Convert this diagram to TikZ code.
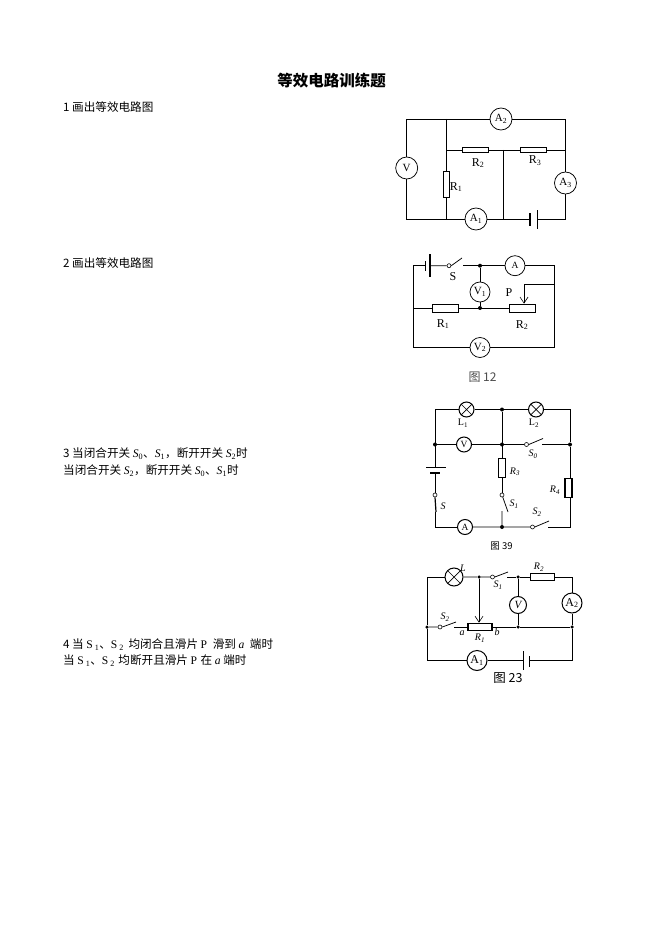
\documentclass[tikz,border=0pt]{standalone}
\usepackage{fontspec}
\setmainfont{Liberation Serif}
\newfontfamily\cjk{Noto Sans CJK SC}
\newfontfamily\lat{Liberation Serif}
\usetikzlibrary{arrows.meta}
\newcommand{\subS}[2]{{\lat\itshape #1}\textsubscript{\lat #2}}
\newcommand{\subU}[2]{{\lat #1\,}\textsubscript{\lat #2}}
\newcommand{\subL}[2]{#1\textsubscript{#2}}
\tikzset{
  wire/.style={line width=0.75pt,black},
  res/.style={draw,line width=0.75pt,rectangle,inner sep=0pt,minimum width=#1},
  res/.default=26pt,
  meter/.style={draw,line width=0.75pt,circle,inner sep=0pt,minimum size=#1,font=\fontsize{11}{11}\selectfont},
  lamp/.style={draw,line width=1pt,circle,inner sep=0pt,minimum size=#1,
    path picture={\draw[line width=0.7pt] (path picture bounding box.north west)--(path picture bounding box.south east)
      (path picture bounding box.north east)--(path picture bounding box.south west);}},
  dot/.style={circle,fill=black,inner sep=0pt,minimum size=#1},
  dot/.default=4pt,
  contact/.style={draw,line width=0.6pt,circle,inner sep=0pt,minimum size=4pt},
  lab/.style={inner sep=0pt,font=\fontsize{12}{12}\selectfont},
  smalllab/.style={inner sep=0pt,font=\fontsize{10}{10}\selectfont\itshape},
  body/.style={anchor=west,inner sep=0pt,font=\fontsize{11.6}{14}\cjk},
  vhead/.style={-{Straight Barb[length=6pt,width=8pt,line width=0.6pt]}}
}
\begin{document}
\begin{tikzpicture}[x=1pt,y=-1pt]
\useasboundingbox (0,0) rectangle (661,936);
\fill[white] (0,0) rectangle (661,936);

% texts
\node[inner sep=0pt,font=\fontsize{15.5}{15.5}\cjk\bfseries] (title) at (331.5,81) {等效电路训练题};
\node[body] (t1) at (63,107) {1 画出等效电路图};
\node[body] (t2) at (63,263) {2 画出等效电路图};
\node[body] (t3a) at (63,454) {3 当闭合开关 {\subS{S}{0}}、{\subS{S}{1}}，断开开关 {\subS{S}{2}}时};
\node[body] (t3b) at (63,471) {当闭合开关 {\subS{S}{2}}，断开开关 {\subS{S}{0}}、{\subS{S}{1}}时};
\node[body] (t4a) at (63,645) {4 当 {\subU{S}{1}}、{\subU{S}{2}}\hspace{2pt} 均闭合且滑片 {\lat P}\hspace{3pt} 滑到 {\lat\itshape a}\hspace{3pt} 端时};
\node[body] (t4b) at (63,661) {当 {\subU{S}{1}}、{\subU{S}{2}}\hspace{1pt} 均断开且滑片 {\lat P}\hspace{1pt} 在 {\lat\itshape a} 端时};

% ---------- circuit 1
\node[meter=22pt] (c1A2) at (501,119) {\subL{A}{2}};
\node[meter=22pt] (c1V) at (406.7,168) {V};
\node[meter=22pt] (c1A1) at (476,219) {\subL{A}{1}};
\node[meter=22pt] (c1A3) at (565.5,183) {\subL{A}{3}};
\node[res=26pt,minimum height=5.5pt] (c1R2) at (475,150) {};
\node[res=26pt,minimum height=5.5pt] (c1R3) at (533.5,150) {};
\node[res=6pt,minimum height=26pt] (c1R1) at (446.7,184) {};
\coordinate (c1tl) at (406.7,119);
\coordinate (c1tr) at (565.5,119);
\coordinate (c1bl) at (406.7,219);
\coordinate (c1br) at (565.5,219);
\coordinate (c1t) at (446.7,119);
\coordinate (c1b) at (446.7,219);
\coordinate (c1m) at (446.7,150);
\coordinate (c1mr) at (565.5,150);
\coordinate (c1c) at (503.5,150);
\coordinate (c1cb) at (503.5,219);
\coordinate (c1bt) at (530,219);
\coordinate (c1bk) at (537,219);
\draw[wire] (c1V.north) -- (c1tl) -- (c1A2.west) (c1A2.east) -- (c1tr) -- (c1A3.north);
\draw[wire] (c1V.south) -- (c1bl) -- (c1A1.west) (c1A1.east) -- (c1bt);
\draw[wire] (c1bk) -- (c1br) -- (c1A3.south);
\draw[wire] (c1t) -- (c1R1.north) (c1R1.south) -- (c1b);
\draw[wire] (c1m) -- (c1R2.west) (c1R2.east) -- (c1R3.west) (c1R3.east) -- (c1mr);
\draw[wire] (c1c) -- (c1cb);
\draw[line width=1.8pt] (530,213) -- (530,226);
\draw[wire] (537,210) -- (537,229);
\node[lab] (c1lR2) at (478,163) {\subL{R}{2}};
\node[lab] (c1lR3) at (535,161) {\subL{R}{3}};
\node[lab] (c1lR1) at (456,187) {\subL{R}{1}};

% ---------- circuit 2
\node[meter=20pt,font=\fontsize{9.5}{9.5}\selectfont] (c2A) at (515,265.7) {A};
\node[meter=20pt] (c2V1) at (480,292) {\subL{V}{1}};
\node[meter=20pt] (c2V2) at (480,347.5) {\subL{V}{2}};
\node[res=26pt,minimum height=8pt] (c2R1) at (445.5,308) {};
\node[res=26pt,minimum height=8pt] (c2R2) at (522.5,308) {};
\node[dot] (c2d1) at (480,265.7) {};
\node[dot] (c2d2) at (480,308) {};
\node[contact] (c2s) at (449,265.7) {};
\coordinate (c2se) at (462,258);
\coordinate (c2sr) at (463,265.7);
\coordinate (c2tl) at (413.5,265.7);
\coordinate (c2bt) at (425,265.7);
\coordinate (c2bk) at (430,265.7);
\coordinate (c2tr) at (554,265.7);
\coordinate (c2ml) at (413.5,308);
\coordinate (c2bl) at (413.5,347.5);
\coordinate (c2br) at (554,347.5);
\coordinate (c2pr) at (554,284);
\coordinate (c2p) at (524,284);
\draw[wire] (c2bt) -- (c2tl) -- (c2bl) -- (c2V2.west) (c2V2.east) -- (c2br) -- (c2tr) -- (c2A.east);
\draw[wire] (c2bk) -- (c2s.west) (c2s.east) -- (c2se);
\draw[wire] (c2sr) -- (c2A.west);
\draw[wire] (c2d1) -- (c2V1.north) (c2V1.south) -- (c2d2);
\draw[wire] (c2ml) -- (c2R1.west) (c2R1.east) -- (c2R2.west);
\draw[wire,vhead] (c2pr) -- (c2p) -- (c2R2.north -| c2p);
\draw[wire] (425,261) -- (425,271);
\draw[line width=1.8pt] (430,254) -- (430,277);
\node[lab] (c2lS) at (453,277) {S};
\node[lab] (c2lP) at (509,293) {P};
\node[lab] (c2lR1) at (443,324) {\subL{R}{1}};
\node[lab] (c2lR2) at (522,325) {\subL{R}{2}};
\begin{scope}
\clip (440,360) rectangle (530,381);
\node[inner sep=0pt,text=black!70,font=\fontsize{12}{12}\cjk] (c2cap) at (482.5,377.5) {图 12};
\end{scope}

% ---------- circuit 3
\node[lamp=15pt] (c3L1) at (466.5,409.5) {};
\node[lamp=15pt] (c3L2) at (536,409.5) {};
\node[meter=15pt,line width=1pt,font=\fontsize{9.5}{9.5}\selectfont] (c3V) at (464,444.5) {V};
\node[meter=15pt,line width=1pt,font=\fontsize{9.5}{9.5}\selectfont] (c3A) at (465,527) {A};
\node[res=7pt,line width=1.2pt,minimum height=19pt] (c3R3) at (502,468) {};
\node[res=7pt,line width=1.2pt,minimum height=19pt] (c3R4) at (568.5,488) {};
\node[dot] (c3d1) at (502,409.5) {};
\node[dot] (c3d2) at (435,444.5) {};
\node[dot] (c3d3) at (502,444.5) {};
\node[dot] (c3d4) at (570,444.5) {};
\node[dot] (c3d5) at (502,527) {};
\node[contact] (c3s0) at (526.5,444.5) {};
\node[contact] (c3s1) at (502,495) {};
\node[contact] (c3s2) at (532.5,527) {};
\node[contact] (c3s) at (435,495) {};
\coordinate (c3s0e) at (543,438.5);
\coordinate (c3s0r) at (542,444.5);
\coordinate (c3s1e) at (508,512);
\coordinate (c3s1b) at (502,511);
\coordinate (c3s2e) at (549,521);
\coordinate (c3s2r) at (548,527);
\coordinate (c3se) at (436,512);
\coordinate (c3sb) at (435,512);
\coordinate (c3tl) at (435,409.5);
\coordinate (c3tr) at (570,409.5);
\coordinate (c3bl) at (435,527);
\coordinate (c3br) at (570,527);
\coordinate (c3bt) at (435,467);
\coordinate (c3bk) at (435,473);
\draw[wire] (c3bt) -- (c3tl) -- (c3L1.west) (c3L1.east) -- (c3L2.west) (c3L2.east) -- (c3tr) -- (c3d4);
\draw[wire] (c3d2) -- (c3V.west) (c3V.east) -- (c3d3) -- (c3s0.west);
\draw[wire] (c3s0.east) -- (c3s0e) (c3s0r) -- (c3d4);
\draw[wire] (c3d1) -- (c3R3.north) (c3R3.south) -- (c3s1);
\draw[wire] (c3s1) -- (c3s1e) (c3s1b) -- (c3d5);
\draw[wire] (c3d4) -- (c3R4.north -| c3d4) (c3R4.south -| c3d4) -- (c3br) -- (c3s2r);
\draw[wire] (c3s2.east) -- (c3s2e) (c3s2.west) -- (c3d5) -- (c3A.east);
\draw[wire] (c3A.west) -- (c3bl) -- (c3sb);
\draw[wire] (c3bk) -- (c3s.north);
\draw[line width=1.2pt] (c3s.south) -- (c3se);
\draw[wire] (426,467) -- (446,467);
\draw[line width=1.8pt] (430,473) -- (440,473);
\node[lab,font=\fontsize{10}{10}\selectfont] (c3lL1) at (463,423) {\subL{L}{1}};
\node[lab,font=\fontsize{10}{10}\selectfont] (c3lL2) at (534,423) {\subL{L}{2}};
\node[smalllab] (c3lS0) at (533,454) {\subL{S}{0}};
\node[smalllab] (c3lR3) at (515,472) {\subL{R}{3}};
\node[smalllab] (c3lS1) at (514,504) {\subL{S}{1}};
\node[smalllab] (c3lR4) at (555,490) {\subL{R}{4}};
\node[smalllab] (c3lS2) at (537,512) {\subL{S}{2}};
\node[smalllab] (c3lS) at (443,506) {S};
\node[inner sep=0pt,font=\fontsize{9.5}{9.5}\cjk] (c3cap) at (501.5,546) {图 39};

% ---------- circuit 4
\node[lamp=18pt] (c4L) at (454,577) {};
\node[meter=17pt,line width=1pt,font=\fontsize{11}{11}\selectfont\itshape] (c4V) at (518,605) {V};
\node[meter=20pt,line width=1pt,font=\fontsize{12}{12}\selectfont] (c4A2) at (572,603) {\subL{A}{2}};
\node[meter=20pt,line width=1pt,font=\fontsize{12}{12}\selectfont] (c4A1) at (477,660.5) {\subL{A}{1}};
\node[res=24pt,line width=1.1pt,minimum height=7.5pt] (c4R1) at (480,627) {};
\node[res=24pt,line width=1.1pt,minimum height=7pt] (c4R2) at (542.5,577) {};
\node[dot=3.5pt] (c4d1) at (479,577) {};
\node[dot=3.5pt] (c4d2) at (518,577) {};
\node[dot=3.5pt] (c4d3) at (518,627) {};
\node[dot=3.5pt] (c4d4) at (572,627) {};
\node[dot=3.5pt] (c4d5) at (427,627) {};
\node[contact] (c4s1) at (492.5,577) {};
\node[contact] (c4s2) at (440,627) {};
\coordinate (c4s1e) at (508,572);
\coordinate (c4s1r) at (507,577);
\coordinate (c4s2e) at (456,622);
\coordinate (c4s2r) at (454,627);
\coordinate (c4tl) at (427,577);
\coordinate (c4tr) at (572,577);
\coordinate (c4bl) at (427,660.5);
\coordinate (c4br) at (572,660.5);
\coordinate (c4bt) at (523,660.5);
\coordinate (c4bk) at (529,660.5);
\draw[wire] (c4L.west) -- (c4tl) -- (c4d5) -- (c4bl) -- (c4A1.west);
\draw[wire] (c4A1.east) -- (c4bt) (c4bk) -- (c4br) -- (c4d4) -- (c4A2.south);
\draw[wire] (c4L.east) -- (c4d1) -- (c4s1.west) (c4s1.east) -- (c4s1e);
\draw[wire] (c4s1r) -- (c4d2) -- (c4R2.west) (c4R2.east) -- (c4tr) -- (c4A2.north);
\draw[wire] (c4d2) -- (c4V.north) (c4V.south) -- (c4d3);
\draw[wire] (c4d5) -- (c4s2.west) (c4s2.east) -- (c4s2e);
\draw[wire] (c4s2r) -- (c4R1.west) (c4R1.east) -- (c4d3) -- (c4d4);
\draw[wire,vhead] (c4d1) -- (c4d1 |- c4R1.north);
\draw[wire] (523,651) -- (523,670);
\draw[wire] (529,656) -- (529,667);
\node[smalllab] (c4lL) at (463,568) {L};
\node[smalllab] (c4lS1) at (498,585) {\subL{S}{1}};
\node[smalllab] (c4lR2) at (539,567) {\subL{R}{2}};
\node[smalllab] (c4lS2) at (445,617) {\subL{S}{2}};
\node[smalllab] (c4la) at (462,633) {a};
\node[smalllab] (c4lR1) at (480,638) {\subL{R}{1}};
\node[smalllab] (c4lb) at (497,632) {b};
\node[inner sep=0pt,font=\fontsize{12.5}{12.5}\cjk] (c4cap) at (508,678) {图 23};
\end{tikzpicture}
\end{document}
